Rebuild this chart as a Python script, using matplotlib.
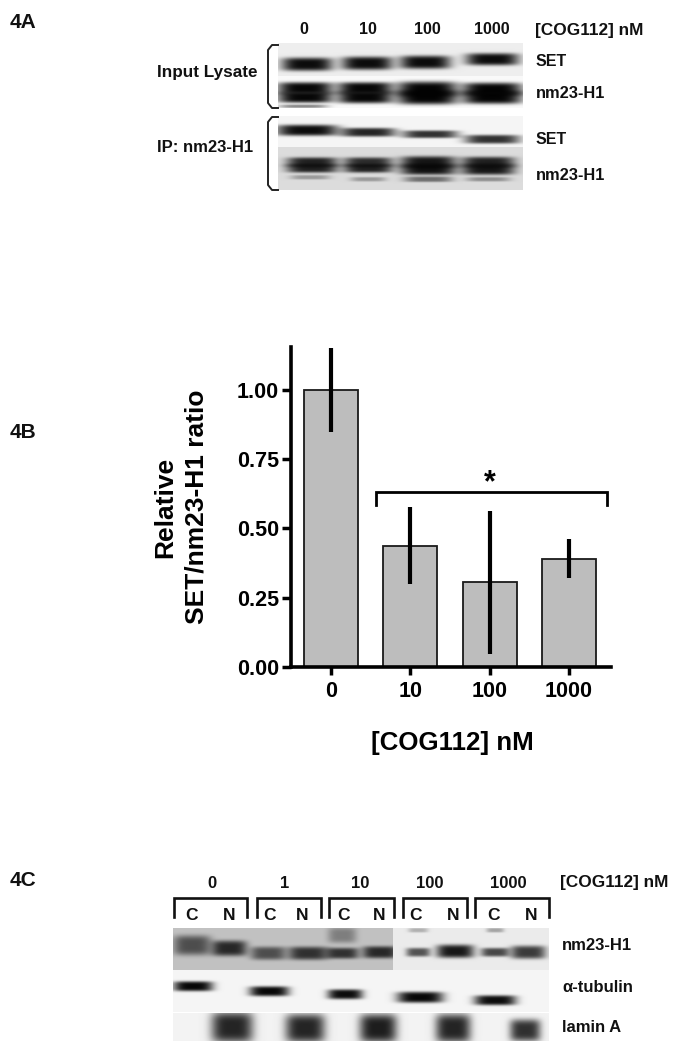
import numpy as np
import matplotlib
matplotlib.use('Agg')
import matplotlib.pyplot as plt

plt.rcParams['font.family'] = ['Liberation Sans', 'DejaVu Sans']
plt.rcParams['font.weight'] = 'bold'

W, H = 677, 1050

# bar chart values (panel 4B)
doses = ['0', '10', '100', '1000']
ratio = [1.00, 0.435, 0.305, 0.39]
err_low = [0.85, 0.298, 0.047, 0.322]
err_high = [1.15, 0.578, 0.564, 0.463]
yticks = [0.00, 0.25, 0.50, 0.75, 1.00]

# blot bands: centre x, centre y, width, height, darkness
a_set_input = [(307, 64, 46, 12, .95), (367, 63, 46, 12, .95), (425, 62, 46, 12, .95), (492, 59, 48, 11, .95)]
a_nm23_input = [(305, 88, 50, 11, .97), (305, 97, 50, 10, .97), (365, 88, 50, 11, .97), (365, 97, 50, 11, .97),
                (427, 89, 54, 14, .98), (427, 97, 54, 13, .98), (492, 89, 54, 12, .98), (492, 97, 54, 12, .98),
                (303, 106, 44, 3, .45)]
a_set_ip = [(307, 130, 56, 10, .95), (368, 132, 50, 8, .85), (430, 134, 50, 7, .8), (492, 139, 50, 8, .8)]
a_nm23_ip = [(312, 162, 46, 9, .85), (312, 168, 46, 8, .85), (368, 162, 44, 9, .8), (368, 168, 44, 8, .85),
             (428, 162, 50, 11, .9), (428, 169, 50, 10, .92), (488, 162, 48, 10, .85), (488, 169, 48, 10, .9),
             (310, 177, 36, 4, .3), (368, 179, 32, 4, .3), (428, 179, 44, 5, .5), (488, 179, 40, 4, .35)]
c_nm23_left = [(192, 945, 34, 18, .6), (229, 948, 32, 14, .8), (268, 953, 32, 12, .6), (308, 953, 36, 12, .75),
               (342, 953, 30, 10, .75), (342, 935, 26, 14, .35), (380, 952, 32, 11, .8)]
c_nm23_right = [(418, 952, 22, 8, .65), (455, 951, 34, 12, .9), (495, 952, 26, 8, .7), (528, 952, 32, 12, .75),
                (418, 930, 18, 4, .25), (495, 930, 16, 4, .3)]
c_tubulin = [(193, 986, 36, 9, .97), (269, 991, 36, 9, .97), (345, 994, 32, 9, .95), (420, 997, 42, 10, .97),
             (495, 1000, 38, 9, .95)]
c_lamin = [(232, 1027, 38, 28, .85), (305, 1028, 36, 26, .85), (378, 1028, 34, 26, .88), (453, 1028, 32, 26, .85),
           (525, 1030, 28, 20, .8)]

fig = plt.figure(figsize=(W / 100, H / 100), dpi=100, facecolor='white')

# overlay in image pixels for the blots and all labels
ov = fig.add_axes([0, 0, 1, 1])


def blot(x0, x1, y0, y1, bg, bands):
    '''draw one blot strip as a grey image with soft dark bands.'''
    xx, yy = np.meshgrid(np.arange(x0, x1, 0.5), np.arange(y0, y1, 0.5))
    img = np.full(xx.shape, bg, dtype=float)
    for cx, cy, w, h, dark in bands:
        prof = np.exp(-np.abs((xx - cx) / (w * 0.55)) ** 4 - np.abs((yy - cy) / (h * 0.55)) ** 4)
        img *= 1 - dark * prof
    ov.imshow(img, extent=(x0, x1, y1, y0), cmap='gray', vmin=0, vmax=1, aspect='auto', interpolation='bilinear')


def label(x, y, s, size=12, ha='left'):
    ov.text(x, y, s, fontsize=size, ha=ha, va='center', color='#111111')


blot(278, 523, 43, 76, 0.93, a_set_input)
blot(278, 523, 76, 108, 0.98, a_nm23_input)
blot(278, 523, 116, 147, 0.96, a_set_ip)
blot(278, 523, 147, 190, 0.86, a_nm23_ip)
blot(173, 393, 928, 970, 0.76, c_nm23_left)
blot(393, 549, 928, 970, 0.92, c_nm23_right)
blot(173, 549, 970, 1012, 0.96, c_tubulin)
blot(173, 549, 1013, 1041, 0.95, c_lamin)

# curly-ish brackets in panel A
for top, bot in [(45, 108), (117, 190)]:
    ov.plot([278, 272, 268, 268, 272, 278], [top, top, top + 5, bot - 5, bot, bot], color='#222222', lw=1.4)

# square brackets in panel C
for x0, x1 in [(174, 247), (257, 321), (329, 394), (403, 467), (475, 549)]:
    ov.plot([x0, x0, x1, x1], [917, 898, 898, 917], color='#111111', lw=1.9, solid_joinstyle='miter')

label(10, 23, '4A', 15)
label(10, 433, '4B', 15)
label(10, 880, '4C', 15)

for x, s in zip([304, 368, 427, 492], doses):
    label(x, 30, s, 11.5, 'center')
label(535, 30, '[COG112] nM', 12.4)
label(157, 73, 'Input Lysate', 12.3)
label(157, 147, 'IP: nm23-H1', 12)
label(536, 62, 'SET', 11.5)
label(536, 93, 'nm23-H1', 11.8)
label(536, 140, 'SET', 11.5)
label(536, 175, 'nm23-H1', 11.8)

for x, s in zip([212, 285, 360, 430, 508], ['0', '1', '10', '100', '1000']):
    label(x, 883, s, 12, 'center')
label(560, 882, '[COG112] nM', 12.4)
for x, s in zip([192, 229, 270, 302, 343, 379, 416, 453, 493, 531], ['C', 'N'] * 5):
    label(x, 915, s, 12.5, 'center')
label(562, 946, 'nm23-H1', 12)
label(562, 988, '\u03b1-tubulin', 12)
label(562, 1028, 'lamin A', 12)

ov.set_xlim(0, W)
ov.set_ylim(H, 0)
ov.axis('off')

# bar chart, placed by pixel box
left, right, top, bottom = 291, 611, 347, 667
ax = fig.add_axes([left / W, 1 - bottom / H, (right - left) / W, (bottom - top) / H])
ax.patch.set_alpha(0)
pos = np.arange(len(doses))
ratio = np.array(ratio)
ax.bar(pos, ratio, width=0.68, color='#bdbdbd', edgecolor='#1a1a1a', linewidth=1.3)
ax.errorbar(pos, ratio, yerr=[ratio - np.array(err_low), np.array(err_high) - ratio], fmt='none',
            ecolor='black', elinewidth=3, capsize=0)

# significance bracket
ax.plot([0.567, 0.567, 3.48, 3.48], [0.585, 0.632, 0.632, 0.585], color='black', lw=2, solid_joinstyle='miter')
ax.text(2.0, 0.665, '*', fontsize=22, ha='center', va='center')

ax.set_xlim(-0.504, 3.53)
ax.set_ylim(0, 1.155)
ax.set_xticks(pos)
ax.set_xticklabels(doses)
ax.set_yticks(yticks)
ax.set_yticklabels(['{:.2f}'.format(v) for v in yticks])
ax.tick_params(axis='y', width=2.5, length=6.5, labelsize=15.5, pad=2)
ax.tick_params(axis='x', width=2.5, length=6, labelsize=15.5, pad=4)
ax.spines['top'].set_visible(False)
ax.spines['right'].set_visible(False)
ax.spines['left'].set_linewidth(2.6)
ax.spines['bottom'].set_linewidth(2.6)
ax.set_ylabel('Relative\nSET/nm23-H1 ratio', fontsize=19, fontweight='bold', linespacing=1.35, ha='center', va='center')
ax.yaxis.set_label_coords((181 - left) / (right - left), (bottom - 507) / (bottom - top))
ax.set_xlabel('[COG112] nM', fontsize=18.6, fontweight='bold')
ax.xaxis.set_label_coords((452 - left) / (right - left), (bottom - 743) / (bottom - top))
ax.xaxis.label.set_verticalalignment('center')

fig.savefig('out.png', dpi=100)
